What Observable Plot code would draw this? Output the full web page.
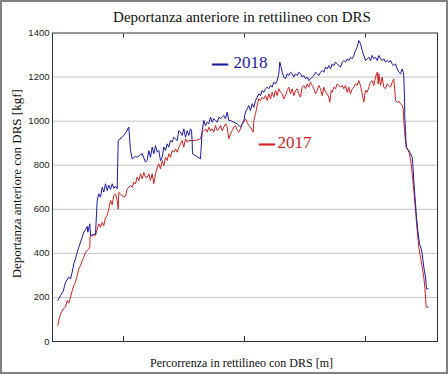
<!DOCTYPE html>
<html>
<head>
<meta charset="utf-8">
<script src="https://cdn.jsdelivr.net/npm/d3@7"></script>
<script src="https://cdn.jsdelivr.net/npm/@observablehq/plot@0.6"></script>
<style>
  html, body { margin: 0; padding: 0; background: #fff; }
  #wrap { position: relative; width: 448px; height: 374px; box-sizing: border-box; border: 2px solid #808080; background: #fff; overflow: hidden; }
  #title { position: absolute; top: 3px; left: 240px; transform: translateX(-50%); white-space: nowrap; font: 15px "Liberation Serif", "Times New Roman", serif; color: #111; line-height: 24px; }
  #chart { position: absolute; top: 24px; left: 0; }
</style>
</head>
<body>
<div id="wrap">
  <div id="title">Deportanza anteriore in rettilineo con DRS</div>
  <div id="chart"></div>
</div>
<script>
// Data (distance in arbitrary units along the straight, downforce in kgf)
const series2018 = [
  [5.3,186],[8,209],[10.7,228],[13,269],[16.3,292],[18,284],[19.7,315],[21.3,353],[23,375],[24.7,405],
  [26.3,428],[28,451],[29.7,473],[31.3,496],[33,507],[34.7,522],[35.3,496],[37.3,534],[38,481],[43,488],
  [44.7,640],[46.3,670],[48,655],[49.7,700],[51.3,678],[53,716],[54.7,685],[56.3,710],[58,690],[59.7,716],
  [61.3,695],[63,705],[64.7,693],[65.7,912],[69.7,927],[73,945],[76.3,973],[78,867],[79.7,829],[83,840],
  [84.7,836],[88,848],[89.7,852],[93,814],[94.7,822],[96.3,866],[98,836],[99.7,882],[101.3,852],[103,889],
  [104.7,859],[106.3,867],[108,821],[109.7,836],[111.3,882],[113,867],[114.7,897],[116.3,882],[118,912],[119.7,905],
  [121.3,927],[123,920],[124.7,912],[126.3,957],[128,950],[129.7,935],[131.3,965],[133,927],[134.7,957],[136.3,935],
  [138,965],[139,957],[139.7,905],[140,852],[148,829],[149.7,957],[151.3,1003],[153,980],[154.7,995],[156.3,988],
  [158,1018],[159.7,995],[161.3,1011],[163,1003],[164.7,995],[166.3,1018],[168,1011],[169.7,1018],[171.3,1026],[173,1011],
  [174.7,1041],[176.3,1003],[178,1003],[181.3,995],[184.7,988],[188,973],[191.3,1003],[193,1041],[194.7,1056],[196.3,1071],
  [198,1048],[199.7,1079],[201.3,1063],[203,1094],[204.7,1109],[206.3,1124],[208,1116],[209.7,1139],[211.3,1131],[213,1147],
  [214.7,1154],[216.3,1147],[218,1162],[219.7,1154],[221.3,1177],[223,1169],[224.7,1184],[226.3,1215],[227.3,1268],[228.7,1245],
  [229.7,1222],[231.3,1200],[233,1192],[234.7,1215],[236.3,1207],[238,1222],[239.7,1215],[241.3,1200],[243,1215],[244.7,1207],
  [246.3,1222],[248,1215],[249.7,1200],[251.3,1207],[253,1192],[254.7,1200],[256.3,1184],[258,1192],[259.7,1200],[261.3,1207],
  [263,1222],[264.7,1215],[266.3,1207],[268,1222],[269.7,1230],[271.3,1222],[273,1245],[274.7,1237],[276.3,1252],[278,1237],
  [279.7,1260],[281.3,1252],[283,1268],[284.7,1260],[286.3,1252],[288,1245],[289.7,1268],[291.3,1275],[293,1268],[294.7,1283],
  [296.3,1275],[298,1290],[299.7,1283],[301.3,1298],[303,1321],[304.7,1336],[306.3,1366],[308,1351],[309.7,1321],[311.3,1298],
  [313,1275],[314.7,1283],[316.3,1290],[318,1275],[319.7,1298],[321.3,1283],[323,1290],[324.7,1275],[326.3,1298],[328,1283],
  [329.7,1275],[331.3,1283],[333,1268],[334.7,1275],[336.3,1268],[338,1275],[339.7,1260],[341.3,1252],[343,1260],[344.7,1237],
  [346.3,1222],[348,1215],[349.7,1237],[350.7,1222],[351.3,1200],[352,1109],[352.3,1018],[353,957],[353.7,882],[354.7,874],
  [356.3,867],[358,852],[359.7,836],[360.3,806],[361.3,731],[363,625],[364,564],[365.3,504],[367,443],[368.7,421],
  [369.7,398],[371.3,337],[373,292],[374,239],[375.7,239]
];
const series2017 = [
  [5.3,73],[6.3,95],[8,125],[10.7,148],[13,156],[14.7,186],[16.3,174],[18,201],[19.7,231],[21.3,254],
  [23,269],[24.7,299],[26.3,330],[28,345],[29.7,367],[31.3,382],[33,405],[34.7,413],[36.3,420],[37.3,428],
  [37.7,481],[39.7,478],[41.3,485],[43,480],[44.7,511],[46.3,534],[48,518],[49.7,541],[51.3,526],[53,564],
  [54.7,571],[56.3,601],[58,640],[59.7,620],[61.3,662],[63,670],[64.7,640],[65.7,601],[66.3,677],[68,670],
  [71.3,655],[73,660],[74.7,693],[78,708],[79.7,700],[81.3,723],[83,715],[84.7,746],[86.3,730],[88,761],
  [89.7,738],[91.3,768],[93,745],[94.7,746],[96.3,761],[98,731],[99.7,761],[101.3,716],[103,761],[104.7,791],
  [106.3,806],[108,784],[109.7,821],[111.3,798],[113,836],[114.7,821],[116.3,852],[118,836],[119.7,867],[121.3,859],
  [123,874],[124.7,859],[126.3,882],[128,897],[129.7,912],[131.3,882],[133,920],[134.7,905],[136.3,912],[139.7,912],
  [143,912],[148,920],[149.7,950],[151.3,957],[153,965],[154.7,950],[156.3,973],[158,957],[159.7,965],[161.3,950],
  [163,980],[164.7,957],[166.3,965],[168,980],[169.7,957],[171.3,973],[173,988],[174.7,973],[176.3,920],[178,942],
  [179.7,957],[181.3,973],[183,980],[184.7,957],[186.3,950],[188,965],[189.7,988],[191.3,995],[193,1010],[194.7,995],
  [196.3,980],[198,973],[199.7,957],[200.7,950],[201.3,1003],[203,1033],[204.7,1071],[206.3,1101],[208,1094],[209.7,1109],
  [211.3,1101],[213,1116],[214.7,1094],[216.3,1124],[218,1101],[219.7,1131],[221.3,1109],[223,1139],[224.7,1116],[226.3,1147],
  [228,1131],[229.7,1124],[231.3,1101],[233,1116],[234.7,1139],[236.3,1154],[238,1124],[239.7,1147],[241.3,1116],[243,1139],
  [244.7,1147],[246.3,1124],[248,1109],[249.7,1154],[251.3,1162],[253,1147],[254.7,1169],[256.3,1154],[258,1177],[259.7,1162],
  [261.3,1147],[263,1124],[264.7,1139],[266.3,1162],[268,1147],[269.7,1116],[271.3,1154],[273,1131],[274.7,1124],[276.3,1109],
  [277.3,1086],[278.7,1139],[279.7,1131],[281.3,1154],[283,1147],[284.7,1169],[286.3,1162],[288,1154],[289.7,1162],[291.3,1147],
  [293,1162],[294.7,1131],[296.3,1154],[298,1124],[299.7,1147],[301.3,1154],[303,1169],[304.7,1162],[306.3,1184],[308,1162],
  [309.7,1124],[311.3,1086],[313,1139],[314.7,1131],[316.3,1154],[318,1177],[319.7,1184],[321.3,1162],[323,1200],[324.7,1222],
  [325.7,1169],[326.3,1215],[328,1162],[329.7,1200],[331.3,1154],[333,1147],[334.7,1169],[336.3,1162],[338,1154],[339.7,1177],
  [341.3,1192],[342.3,1139],[343,1094],[344.7,1086],[346.3,1091],[348,1079],[349.7,1071],[350.7,1056],[351.3,1003],[352,957],
  [353,912],[354,882],[355.7,867],[357,852],[358.7,806],[360.3,731],[361.3,685],[363,595],[364.7,504],[366.3,428],
  [368,383],[369.7,337],[371.3,292],[372.3,247],[373,201],[373.7,156],[375.7,156]
];
const yTicks = [0, 200, 400, 600, 800, 1000, 1200, 1400];
const gridTicks = [200, 400, 600, 800, 1000, 1200];
const xTicks = [71, 192, 313];
const xDomain = [0, 385];
const yDomain = [0, 1400];
const years = ["2018", "2017"];
const xLabel = "Percorrenza in rettilineo con DRS [m]";
const yLabel = "Deportanza anteriore con DRS [kgf]";

const blue = "#1a1aa6";
const red = "#d22222";
const toRows = (s) => s.map(([d, v]) => ({d, v}));
const serif = '"Liberation Serif", "Times New Roman", serif';

const chart = Plot.plot({
  width: 444,
  height: 344,
  marginLeft: 50,
  marginRight: 9,
  marginTop: 6.5,
  marginBottom: 29,
  style: { background: "#fff", fontFamily: '"Liberation Sans", Arial, sans-serif', overflow: "visible" },
  x: { domain: xDomain, axis: null },
  y: { domain: yDomain, axis: null },
  marks: [
    Plot.gridY(gridTicks, { stroke: "#c4c4c4", strokeOpacity: 1, strokeWidth: 1 }),
    Plot.line(toRows(series2017), { x: "d", y: "v", stroke: red, strokeWidth: 1 }),
    Plot.line(toRows(series2018), { x: "d", y: "v", stroke: blue, strokeWidth: 1 }),
    Plot.frame({ stroke: "#333", strokeWidth: 1 }),
    Plot.axisY(yTicks, { tickSize: 0, tickPadding: 3, fontSize: 9.5, fill: "#222", label: null, tickFormat: (d) => String(d) }),
    Plot.axisX(xTicks, { anchor: "bottom", tickSize: -5, tickFormat: () => "", label: null, stroke: "#333" }),
    Plot.axisX(xTicks, { anchor: "top", tickSize: -4, tickFormat: () => "", label: null, stroke: "#333" }),
    Plot.text([xLabel], { frameAnchor: "bottom", textAnchor: "middle", lineAnchor: "bottom", dx: -3.5, dy: 25.7, fontSize: 12, fontFamily: serif, fill: "#111" }),
    Plot.text([yLabel], { frameAnchor: "left", textAnchor: "middle", lineAnchor: "bottom", rotate: -90, dx: -32, dy: -3.5, fontSize: 13, fontFamily: serif, fill: "#111" }),
    // legend annotations
    Plot.text(["\u2014"], { frameAnchor: "top-left", textAnchor: "start", lineAnchor: "bottom", dx: 160, dy: 34.5, fontSize: 15, fontFamily: serif, fill: blue, stroke: blue, strokeWidth: 1.2 }),
    Plot.text([years[0]], { frameAnchor: "top-left", textAnchor: "start", lineAnchor: "bottom", dx: 181, dy: 34.5, fontSize: 17, fontFamily: serif, fill: blue }),
    Plot.text(["\u2014"], { frameAnchor: "top-left", textAnchor: "start", lineAnchor: "bottom", dx: 207, dy: 114.5, fontSize: 15, fontFamily: serif, fill: red, stroke: red, strokeWidth: 1.2 }),
    Plot.text([years[1]], { frameAnchor: "top-left", textAnchor: "start", lineAnchor: "bottom", dx: 225, dy: 114.5, fontSize: 17, fontFamily: serif, fill: red })
  ]
});
document.getElementById("chart").appendChild(chart);
</script>
</body>
</html>
